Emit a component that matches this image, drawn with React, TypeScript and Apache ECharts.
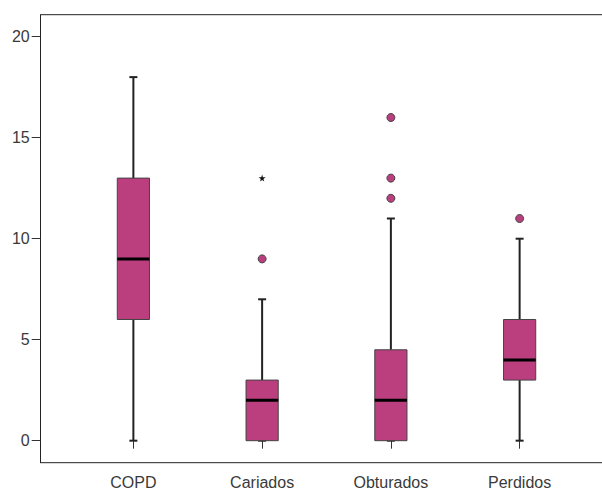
import React, { useEffect, useRef } from "react";
import * as echarts from "echarts";

const categories = ["COPD", "Cariados", "Obturados", "Perdidos"];
// [min whisker, Q1, median, Q3, max whisker]
const boxStats = [
  [0, 6, 9, 13, 18],
  [0, 0, 2, 3, 7],
  [0, 0, 2, 4.5, 11],
  [0, 3, 4, 6, 10],
];
// outliers (circles): [category index, value]
const outliers = [
  [1, 9],
  [2, 12],
  [2, 13],
  [2, 16],
  [3, 11],
];
// extreme values (stars)
const extremes = [[1, 13]];
const yTicks = [0, 5, 10, 15, 20];

const FILL = "#bb3e7e";
const STAR =
  "path://M50,0 L61,35 L98,35 L68,57 L79,91 L50,70 L21,91 L32,57 L2,35 L39,35 Z";

export default function App() {
  const ref = useRef<HTMLDivElement>(null);
  useEffect(() => {
    if (!ref.current) return;
    const chart = echarts.init(ref.current, undefined, { renderer: "svg" });
    const font = "'Liberation Sans', Arial, sans-serif";
    chart.setOption({
      animation: false,
      backgroundColor: "#ffffff",
      grid: { left: 69, right: 18, top: 14.7, bottom: 28.3 },
      xAxis: {
        type: "category",
        data: categories,
        boundaryGap: true,
        axisLine: { show: false },
        axisTick: {
          show: true,
          alignWithLabel: true,
          length: 8,
          lineStyle: { color: "#333", width: 1 },
        },
        axisLabel: {
          margin: 12,
          color: "#3a3a3a",
          fontSize: 16,
          fontFamily: font,
        },
        splitLine: { show: false },
      },
      yAxis: {
        type: "value",
        min: -1.09,
        max: 21.09,
        offset: 28.3,
        axisLine: { show: true, lineStyle: { color: "#222", width: 1 } },
        axisTick: {
          show: true,
          length: 9,
          customValues: yTicks,
          lineStyle: { color: "#333", width: 1 },
        },
        axisLabel: {
          customValues: yTicks,
          margin: 11,
          color: "#3a3a3a",
          fontSize: 16,
          fontFamily: font,
        },
        splitLine: { show: false },
      },
      graphic: [
        {
          type: "line",
          shape: { x1: 40.7, y1: 14.7, x2: 602, y2: 14.7 },
          style: { stroke: "#222", lineWidth: 1 },
          silent: true,
        },
        {
          type: "line",
          shape: { x1: 40.7, y1: 462.7, x2: 602, y2: 462.7 },
          style: { stroke: "#222", lineWidth: 1 },
          silent: true,
        },
      ],
      series: [
        {
          type: "custom",
          data: boxStats.map((s, i) => [i, ...s]),
          encode: { x: 0, y: [1, 2, 3, 4, 5] },
          renderItem: (params: any, api: any) => {
            const x = api.value(0);
            const pMin = api.coord([x, api.value(1)]);
            const pQ1 = api.coord([x, api.value(2)]);
            const pMed = api.coord([x, api.value(3)]);
            const pQ3 = api.coord([x, api.value(4)]);
            const pMax = api.coord([x, api.value(5)]);
            const bw = api.size([1, 0])[0] * 0.25;
            const cap = 4;
            const cx = pMed[0];
            const wStyle = { stroke: "#222", lineWidth: 2 };
            return {
              type: "group",
              children: [
                {
                  type: "line",
                  shape: { x1: cx, y1: pMin[1], x2: cx, y2: pQ1[1] },
                  style: wStyle,
                },
                {
                  type: "line",
                  shape: { x1: cx, y1: pQ3[1], x2: cx, y2: pMax[1] },
                  style: wStyle,
                },
                {
                  type: "line",
                  shape: { x1: cx - cap, y1: pMin[1], x2: cx + cap, y2: pMin[1] },
                  style: wStyle,
                },
                {
                  type: "line",
                  shape: { x1: cx - cap, y1: pMax[1], x2: cx + cap, y2: pMax[1] },
                  style: wStyle,
                },
                {
                  type: "rect",
                  shape: {
                    x: cx - bw / 2,
                    y: pQ3[1],
                    width: bw,
                    height: pQ1[1] - pQ3[1],
                  },
                  style: { fill: FILL, stroke: "#444", lineWidth: 1 },
                },
                {
                  type: "line",
                  shape: {
                    x1: cx - bw / 2,
                    y1: pMed[1],
                    x2: cx + bw / 2,
                    y2: pMed[1],
                  },
                  style: { stroke: "#000", lineWidth: 3 },
                },
              ],
            };
          },
          z: 2,
        },
        {
          type: "scatter",
          data: outliers,
          symbol: "circle",
          symbolSize: 8,
          itemStyle: { color: FILL, borderColor: "#444", borderWidth: 1, opacity: 1 },
          z: 3,
        },
        {
          type: "scatter",
          data: extremes,
          symbol: STAR,
          symbolSize: 7,
          itemStyle: { color: "#111", opacity: 1 },
          z: 3,
        },
      ],
    });
    return () => chart.dispose();
  }, []);
  return (
    <div
      ref={ref}
      style={{ position: "absolute", left: 0, top: 0, width: 602, height: 491 }}
    />
  );
}
